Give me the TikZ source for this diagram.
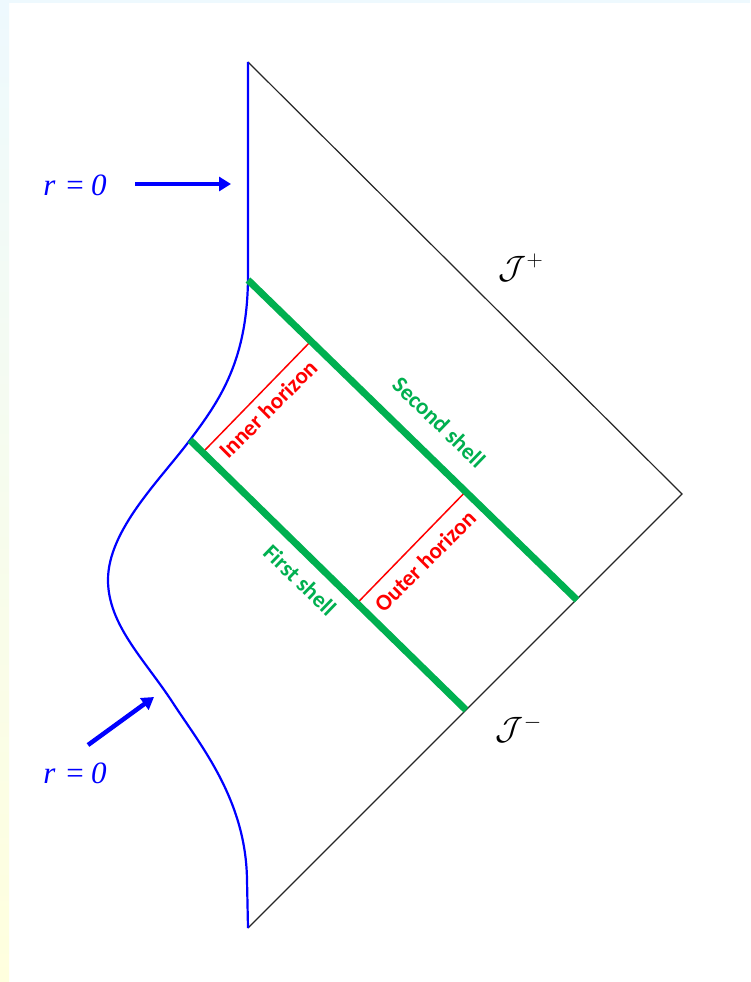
\documentclass[tikz,border=0pt]{standalone}
\usepackage{fontspec}
\usepackage{graphicx}
\newfontfamily\labfont{Carlito}
\newfontfamily\tnrfont{Liberation Serif}
\usetikzlibrary{arrows.meta,calc}
\definecolor{pgreen}{RGB}{0,176,80}
\definecolor{pblue}{RGB}{0,0,255}
\definecolor{pred}{RGB}{255,0,0}
\definecolor{bgblue}{RGB}{238,249,254}
\definecolor{bgyellow}{RGB}{255,255,222}
\newcommand{\scrij}[1]{\scalebox{1.3}{$\mathcal{J}^{#1}$}}
\begin{document}
\begin{tikzpicture}[x=1pt,y=-1pt,
  edge/.style={draw=black!85,line width=1.2pt},
  shell/.style={draw=pgreen,line width=7pt},
  horizon/.style={draw=pred,line width=1.5pt},
  worldline/.style={draw=pblue,line width=2.2pt},
  pointer/.style={draw=pblue,line width=4.5pt,-{Triangle[length=12pt,width=14pt]}},
  hlabel/.style={text=pred,font=\labfont\bfseries\fontsize{23}{25}\selectfont,inner sep=0pt},
  slabel/.style={text=pgreen,font=\labfont\bfseries\fontsize{23}{25}\selectfont,inner sep=0pt},
  rlabel/.style={text=pblue,font=\tnrfont\itshape\fontsize{31}{33}\selectfont,inner sep=0pt},
  scri/.style={font=\fontsize{24}{26}\selectfont,inner sep=0pt}]
\useasboundingbox (0,0) rectangle (750,982);
\fill[white] (0,0) rectangle (750,982);
\shade[top color=bgblue,bottom color=bgyellow] (0,0) rectangle (9,982);
\fill[bgblue] (0,0) rectangle (750,3);
% corners
\coordinate (top) at (248,62);
\coordinate (right) at (682,494);
\coordinate (bot) at (248,928);
\draw[edge] (top) -- (right) -- (bot);
% r=0 worldline
\draw[worldline,line join=round] (top) -- (248,275)
  .. controls (248,360) and (220,400) .. (190,440)
  .. controls (160,480) and (108,530) .. (108,580)
  .. controls (108,625) and (145,660) .. (173,703)
  .. controls (201,746) and (246,800) .. (247,880)
  -- (bot);
% shells
\coordinate (s2a) at (248,280);
\coordinate (s2b) at (577,600);
\coordinate (s1a) at (190,440);
\coordinate (s1b) at (466,710);
% horizons
\coordinate (ih1) at ($(s1a)!0.046!(s1b)$);
\coordinate (ih2) at ($(s2a)!(ih1)!(s2b)$);
\coordinate (oh1) at ($(s1a)!0.605!(s1b)$);
\coordinate (oh2) at ($(s2a)!(oh1)!(s2b)$);
\draw[horizon] (ih1) -- (ih2);
\draw[horizon] (oh1) -- (oh2);
\draw[shell] (s2a) -- (s2b);
\draw[shell] (s1a) -- (s1b);
% labels
\node[hlabel,rotate=45] (inner) at (268,409) {Inner horizon};
\node[hlabel,rotate=45] (outer) at (425,561) {Outer horizon};
\node[slabel,rotate=-44] (second) at (439,422) {Second shell};
\node[slabel,rotate=-44] (first) at (300,580) {First shell};
\node[scri] (jplus) at (521,268) {\scrij{+}};
\node[scri] (jminus) at (519,729) {\scrij{-}};
% r = 0 labels and arrows
\node[rlabel] (r1) at (75,185) {r\hspace{9pt}=\hspace{6pt}0};
\node[rlabel] (r2) at (75,773) {r\hspace{9pt}=\hspace{6pt}0};
\coordinate (a1s) at (135,184);
\coordinate (a1e) at (231,184);
\coordinate (a2s) at (88,745);
\coordinate (a2e) at (154,697);
\draw[pointer] (a1s) -- (a1e);
\draw[pointer] (a2s) -- (a2e);
\end{tikzpicture}
\end{document}
